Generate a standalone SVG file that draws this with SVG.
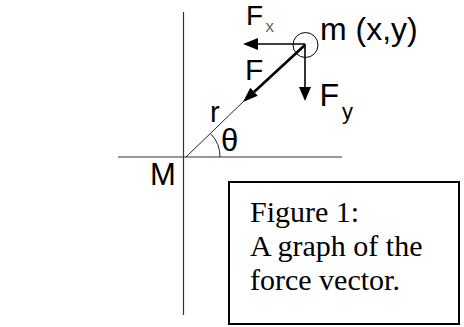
<svg xmlns="http://www.w3.org/2000/svg" width="464" height="327" viewBox="0 0 464 327">
<style>
.ax{stroke:#333;stroke-width:1.2;fill:none}
.thin{stroke:#222;stroke-width:1;fill:none}
.vec{stroke:#000;stroke-width:1.6;fill:none}
.vecb{stroke:#000;stroke-width:2.6;fill:none}
.head{fill:#000;stroke:none}
.sans{font-family:"Liberation Sans",Arial,sans-serif;fill:#000}
.serif{font-family:"Liberation Serif","Times New Roman",serif;font-size:30px;fill:#000}
</style>
<rect width="464" height="327" fill="#fff"/>
<g id="axes">
<line class="ax" x1="183.5" y1="12" x2="183.5" y2="315"/>
<line class="ax" x1="118" y1="157" x2="342" y2="157"/>
</g>
<g id="connectors">
<line class="thin" x1="186" y1="157" x2="247" y2="98"/>
<path class="thin" d="M220,157 A33,33 0 0 0 211,134"/>
<line class="vec" x1="305" y1="44" x2="256" y2="44"/>
<polygon class="head" points="243,44 258,38 258,50"/>
<line class="vec" x1="305" y1="44" x2="305" y2="89"/>
<polygon class="head" points="305,101 299,87 311,87"/>
<line class="vecb" x1="305" y1="45" x2="254" y2="92"/>
<polygon class="head" points="243,102 257.7,95.8 250.3,87.8"/>
</g>
<g id="mass">
<circle cx="305.5" cy="45" r="12.5" fill="none" stroke="#000" stroke-width="1"/>
<text class="sans" x="320" y="40" font-size="32">m (x,y)</text>
</g>
<g id="labels">
<text class="sans" x="246" y="25" font-size="28">F</text>
<text class="sans" x="265.5" y="32" font-size="17" fill="#666" style="fill:#666">x</text>
<text class="sans" x="245" y="80" font-size="30">F</text>
<text class="sans" x="319.5" y="106" font-size="32">F</text>
<text class="sans" x="342" y="119" font-size="22">y</text>
<text class="sans" x="210" y="122" font-size="29">r</text>
<text class="sans" x="221" y="151" font-size="31">θ</text>
<text class="sans" x="150" y="185" font-size="31">M</text>
</g>
<g id="caption">
<rect x="229" y="182" width="230" height="142" fill="none" stroke="#000" stroke-width="2"/>
<text class="serif" x="250" y="222">Figure 1:</text>
<text class="serif" x="250" y="256">A graph of the</text>
<text class="serif" x="250" y="290">force vector.</text>
</g>
</svg>
